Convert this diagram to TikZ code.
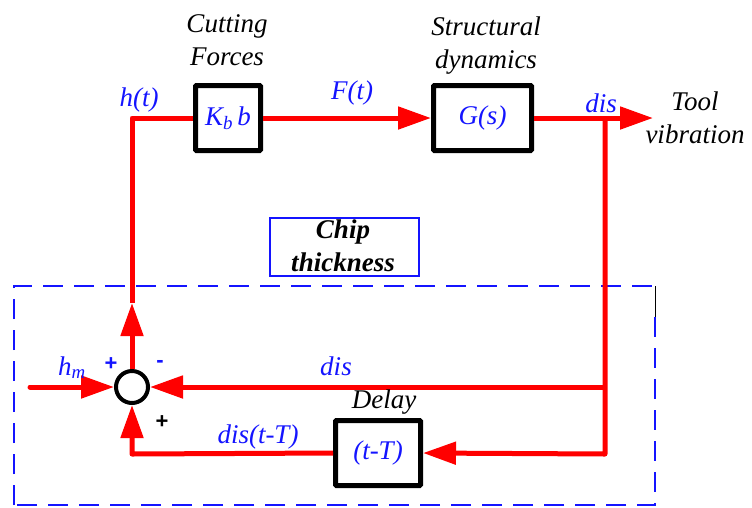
\documentclass[tikz,border=0pt]{standalone}
\usepackage{fontspec}
\setmainfont{Liberation Serif}
\newfontfamily\plusfont{Liberation Sans}
\usetikzlibrary{arrows.meta}
\definecolor{sigred}{RGB}{255,0,0}
\definecolor{labblue}{RGB}{20,20,255}
\begin{document}
\begin{tikzpicture}[x=1pt,y=-1pt,
  sig/.style={draw=sigred,line width=5pt},
  sigarrow/.style={sig,-{Triangle[length=33pt,width=22pt]}},
  blockbox/.style={draw=black,line width=5pt,rounded corners=1pt,fill=white,inner sep=0pt,
    font=\fontsize{27}{30}\selectfont\itshape,text=labblue},
  lab/.style={font=\fontsize{27}{30}\selectfont\itshape,text=labblue,anchor=base,inner sep=0pt},
  title/.style={font=\fontsize{27}{30}\selectfont\itshape,text=black,anchor=base,inner sep=0pt},
  sign/.style={font=\fontsize{22}{24}\selectfont\plusfont\bfseries,inner sep=0pt}]
\useasboundingbox (0,0) rectangle (752,507);

% dashed chip-thickness region
\draw[labblue,line width=2.5pt,dash pattern=on 20pt off 11pt] (14,505) -- (14,286) -- (655,286);
\draw[labblue,line width=2.5pt,dash pattern=on 20pt off 11pt] (655,317) -- (655,505) -- (14,505);
\draw[black,line width=1pt] (655,286) -- (655,317);

% blocks
\node[blockbox,minimum width=65pt,minimum height=65pt] (kb) at (228,118) {K\textsubscript{b}\,b};
\node[blockbox,minimum width=98pt,minimum height=65pt] (gs) at (482.5,118) {G(s)};
\node[blockbox,minimum width=85pt,minimum height=65pt] (delay) at (378,453) {(t-T)};
\node[draw=black,line width=4pt,circle,minimum size=32pt,inner sep=0pt,fill=white] (sum) at (132,387) {};
\node[draw=labblue,line width=1.5pt,minimum width=149pt,minimum height=58pt,inner sep=0pt] (chip) at (344.5,247) {};

% coordinates
\coordinate (up) at (132,303);
\coordinate (corner) at (132,118);
\coordinate (tap) at (605,118);
\coordinate (toolend) at (653,118);
\coordinate (dtap) at (605,387);
\coordinate (br) at (605,454);
\coordinate (bl) at (132,454);
\coordinate (hmstart) at (30,387);

% connectors
\draw[sigarrow] (sum.north) -- (up);
\draw[sig,line join=round] (up) -- (corner) -- (kb.west);
\draw[sigarrow] (kb.east) -- (gs.west);
\draw[sigarrow] (gs.east) -- (toolend);
\draw[sigarrow,line join=round] (tap) -- (br) -- (delay.east);
\draw[sigarrow] (dtap) -- (sum.east);
\draw[sigarrow,line join=round] (delay.west) -- (bl) -- (sum.south);
\draw[sigarrow,line cap=round] (hmstart) -- (sum.west);

% titles
\node[title] (cutA) at (227,32) {Cutting};
\node[title] (cutB) at (227,65) {Forces};
\node[title] (strA) at (486,35) {Structural};
\node[title] (strB) at (486,68) {dynamics};
\node[title] (toolA) at (695,110) {Tool};
\node[title] (toolB) at (695,143) {vibration};
\node[title] (delt) at (384,408) {Delay};
\node[title,font=\fontsize{27}{30}\selectfont\bfseries\itshape] (chipA) at (343,238) {Chip};
\node[title,font=\fontsize{27}{30}\selectfont\bfseries\itshape] (chipB) at (343,271) {thickness};

% signal labels
\node[lab] (ht) at (139,106) {h(t)};
\node[lab] (ft) at (352,99) {F(t)};
\node[lab] (dis1) at (601,112) {dis};
\node[lab] (hm) at (72,375) {h\textsubscript{m}};
\node[lab] (dis2) at (336,375) {dis};
\node[lab] (dist) at (258,443) {dis(t-T)};
\node[sign,text=labblue] (plusA) at (111,364) {+};
\node[sign,text=labblue] (minus) at (160,364) {-};
\node[sign,text=black] (plusB) at (162,422) {+};
\end{tikzpicture}
\end{document}
